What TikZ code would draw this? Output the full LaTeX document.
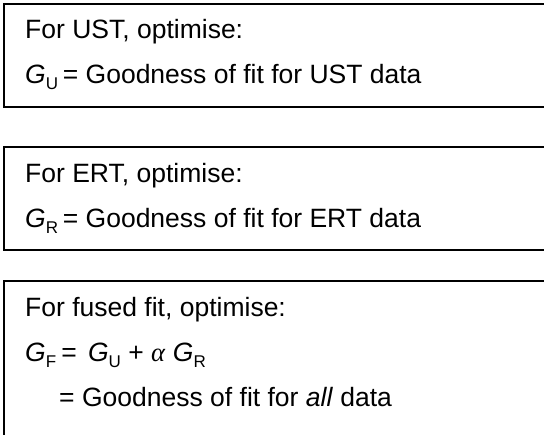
\documentclass[tikz,border=0pt]{standalone}
\usepackage{fontspec}
\setmainfont{Liberation Sans}
\newfontfamily\symfont{Liberation Serif}
% italic G with a small upright subscript
\newcommand\Gsym[1]{\textit{G}\raisebox{-0.2em}{\fontsize{17}{17}\selectfont #1}}
\begin{document}
\begin{tikzpicture}[x=1pt,y=-1pt,
  panel/.style={draw=black, line width=1.3pt},
  txt/.style={anchor=base west, inner sep=0pt, font=\fontsize{26.5}{30}\selectfont}]
\useasboundingbox (0,0) rectangle (544,435);
\clip (0,0) rectangle (544,435);
\fill[white] (0,0) rectangle (544,435);

% three panels running off the right edge
\draw[panel] (4,4) rectangle (570,107);
\draw[panel] (4,147) rectangle (570,250);
\draw[panel] (4,281) rectangle (570,460);

% UST panel
\node[txt] (ust1) at (25,39) {For UST, optimise:};
\node[txt] (ust2) at (25,84) {\Gsym{U}\kern0.18em= Goodness of fit for UST data};

% ERT panel
\node[txt] (ert1) at (25,183) {For ERT, optimise:};
\node[txt] (ert2) at (25,228) {\Gsym{R}\kern0.18em= Goodness of fit for ERT data};

% fused panel
\node[txt] (fus1) at (25,317) {For fused fit, optimise:};
\node[txt] (fus2) at (25,362) {\Gsym{F}\kern0.2em=\kern0.42em\Gsym{U} + {\symfont\textit{α}} \Gsym{R}};
\node[txt] (fus3) at (59,407) {= Goodness of fit for \textit{all} data};
\end{tikzpicture}
\end{document}
